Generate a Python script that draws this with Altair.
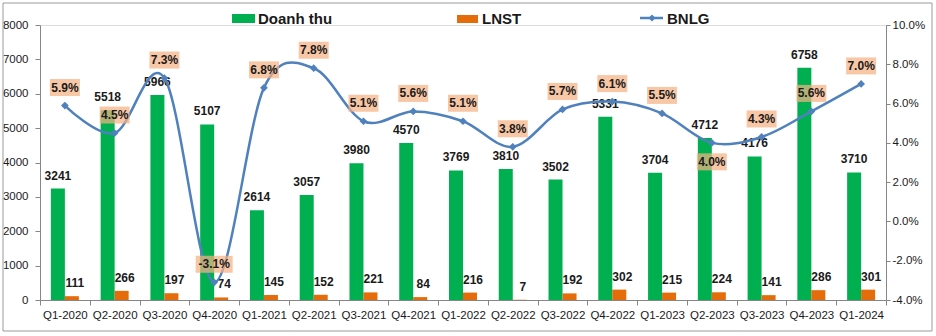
import altair as alt
import pandas as pd

quarters = ["Q1-2020", "Q2-2020", "Q3-2020", "Q4-2020", "Q1-2021", "Q2-2021",
            "Q3-2021", "Q4-2021", "Q1-2022", "Q2-2022", "Q3-2022", "Q4-2022",
            "Q1-2023", "Q2-2023", "Q3-2023", "Q4-2023", "Q1-2024"]
doanh_thu = [3241, 5518, 5966, 5107, 2614, 3057, 3980, 4570, 3769, 3810, 3502,
             5331, 3704, 4712, 4176, 6758, 3710]
lnst = [111, 266, 197, 74, 145, 152, 221, 84, 216, 7, 192, 302, 215, 224, 141,
        286, 301]
bnlg = [0.059, 0.045, 0.073, -0.031, 0.068, 0.078, 0.051, 0.056, 0.051, 0.038,
        0.057, 0.061, 0.055, 0.040, 0.043, 0.056, 0.070]
labels_below = ["Q2-2023"]

df = pd.DataFrame({"q": quarters, "rev": doanh_thu, "prof": lnst, "bnlg": bnlg})
one = pd.DataFrame({"a": [0]})

FONT = "Liberation Sans"
GREEN = "#00B050"
ORANGE = "#E46C0A"
BLUE = "#4F81BD"
AXIS_C = "#868686"
TXT = "#1a1a1a"

x = alt.X("q:N", sort=quarters, title=None,
          scale=alt.Scale(paddingInner=0, paddingOuter=0),
          axis=alt.Axis(labelAngle=0, tickBand="extent", tickSize=5,
                        labelPadding=4, labelFontSize=11.5, labelFont=FONT,
                        labelColor=TXT, domainColor=AXIS_C, tickColor=AXIS_C,
                        grid=False))

yl_scale = alt.Scale(domain=[0, 8000], nice=False, zero=True)
yl_axis = alt.Axis(values=list(range(0, 8001, 1000)), format="d", grid=False,
                   tickSize=5, labelPadding=7, labelFontSize=11.5, labelFont=FONT,
                   labelColor=TXT, domainColor=AXIS_C, tickColor=AXIS_C,
                   title=None)

base = alt.Chart(df)

bars_rev = base.mark_bar(color=GREEN, width=14, xOffset=-7).encode(
    x=x, y=alt.Y("rev:Q", scale=yl_scale, axis=yl_axis))
bars_prof = base.mark_bar(color=ORANGE, width=14, xOffset=7).encode(
    x=x, y=alt.Y("prof:Q", scale=yl_scale, axis=yl_axis))
txt_rev = base.mark_text(font=FONT, fontSize=12, fontWeight="bold", color=TXT,
                         dx=-7, dy=-13, baseline="middle").encode(
    x=x, y=alt.Y("rev:Q", scale=yl_scale, axis=yl_axis), text="rev:Q")
txt_prof = base.mark_text(font=FONT, fontSize=12, fontWeight="bold", color=TXT,
                          dx=10, dy=-13, baseline="middle").encode(
    x=x, y=alt.Y("prof:Q", scale=yl_scale, axis=yl_axis), text="prof:Q")

# legend + frame
border = alt.Chart(one).mark_rect(fill=None, stroke="#9a9a9a", strokeWidth=1).encode(
    x=alt.value(-37), x2=alt.value(892), y=alt.value(-22), y2=alt.value(306))
leg_g = alt.Chart(one).mark_rect(color=GREEN).encode(
    x=alt.value(192), x2=alt.value(215), y=alt.value(-11), y2=alt.value(-2))
leg_o = alt.Chart(one).mark_rect(color=ORANGE).encode(
    x=alt.value(417), x2=alt.value(438), y=alt.value(-10), y2=alt.value(-2))
leg_l = alt.Chart(one).mark_rule(color=BLUE, strokeWidth=2.5).encode(
    x=alt.value(600), x2=alt.value(623), y=alt.value(-7))
leg_d = alt.Chart(one).mark_point(shape="diamond", filled=True, color=BLUE,
                                  size=50, opacity=1).encode(
    x=alt.value(612), y=alt.value(-7))
leg_t1 = alt.Chart(one).mark_text(font=FONT, fontSize=15, fontWeight="bold",
                                  color=TXT, align="left", baseline="middle").encode(
    x=alt.value(218), y=alt.value(-6), text=alt.value("Doanh thu"))
leg_t2 = alt.Chart(one).mark_text(font=FONT, fontSize=15, fontWeight="bold",
                                  color=TXT, align="left", baseline="middle").encode(
    x=alt.value(442), y=alt.value(-6), text=alt.value("LNST"))
leg_t3 = alt.Chart(one).mark_text(font=FONT, fontSize=15, fontWeight="bold",
                                  color=TXT, align="left", baseline="middle").encode(
    x=alt.value(627), y=alt.value(-6), text=alt.value("BNLG"))

left = alt.layer(bars_rev, bars_prof, txt_rev, txt_prof, border,
                 leg_g, leg_o, leg_l, leg_d, leg_t1, leg_t2, leg_t3)

yr_scale = alt.Scale(domain=[-0.04, 0.10], nice=False, zero=False)
yr_axis = alt.Axis(orient="right", values=[-0.04, -0.02, 0, 0.02, 0.04, 0.06, 0.08, 0.10],
                   labelExpr="replace(format(datum.value, '.1%'), '\u2212', '-')",
                   grid=False, tickSize=4, labelPadding=2,
                   labelFontSize=11.5, labelFont=FONT, labelColor=TXT,
                   domainColor=AXIS_C, tickColor=AXIS_C, title=None)
yr = alt.Y("bnlg:Q", scale=yr_scale, axis=yr_axis)

line = base.mark_line(color=BLUE, strokeWidth=2.5, interpolate="cardinal").encode(x=x, y=yr)
pts = base.mark_point(shape="diamond", filled=True, color=BLUE, size=60,
                      opacity=1).encode(x=x, y=yr)

BOX_STD = "M-1,-0.567H1V0.567H-1Z"
BOX_WIDE = "M-1,-0.46H1V0.46H-1Z"


def pct_labels(offset, cond):
    d = base.transform_filter(cond).transform_calculate(
        lbl="replace(format(datum.bnlg, '.1%'), '\u2212', '-')")
    box = d.mark_point(filled=True, color="#F4B183", opacity=0.72,
                       yOffset=offset, strokeWidth=0).encode(
        x=x, y=yr,
        shape=alt.condition("datum.bnlg < 0", alt.value(BOX_WIDE), alt.value(BOX_STD)),
        size=alt.condition("datum.bnlg < 0", alt.value(1369), alt.value(900)))
    t = d.mark_text(font=FONT, fontSize=12, fontWeight="bold", color=TXT,
                    dy=offset, baseline="middle").encode(
        x=x, y=yr, text="lbl:N")
    return [box, t]


below_expr = "indexof(" + str(labels_below).replace("'", '"') + ", datum.q) >= 0"
above_expr = "indexof(" + str(labels_below).replace("'", '"') + ", datum.q) < 0"

right = alt.layer(line, pts, *pct_labels(-18, above_expr), *pct_labels(19, below_expr))

chart = alt.layer(left, right).resolve_scale(y="independent").properties(
    width=846, height=275,
    autosize=alt.AutoSizeParams(type="none"),
    padding={"left": 40, "top": 25, "right": 50, "bottom": 36},
).configure_view(stroke=None).configure(font=FONT)

chart.save("out.html", embed_options={"renderer": "svg", "actions": False})
